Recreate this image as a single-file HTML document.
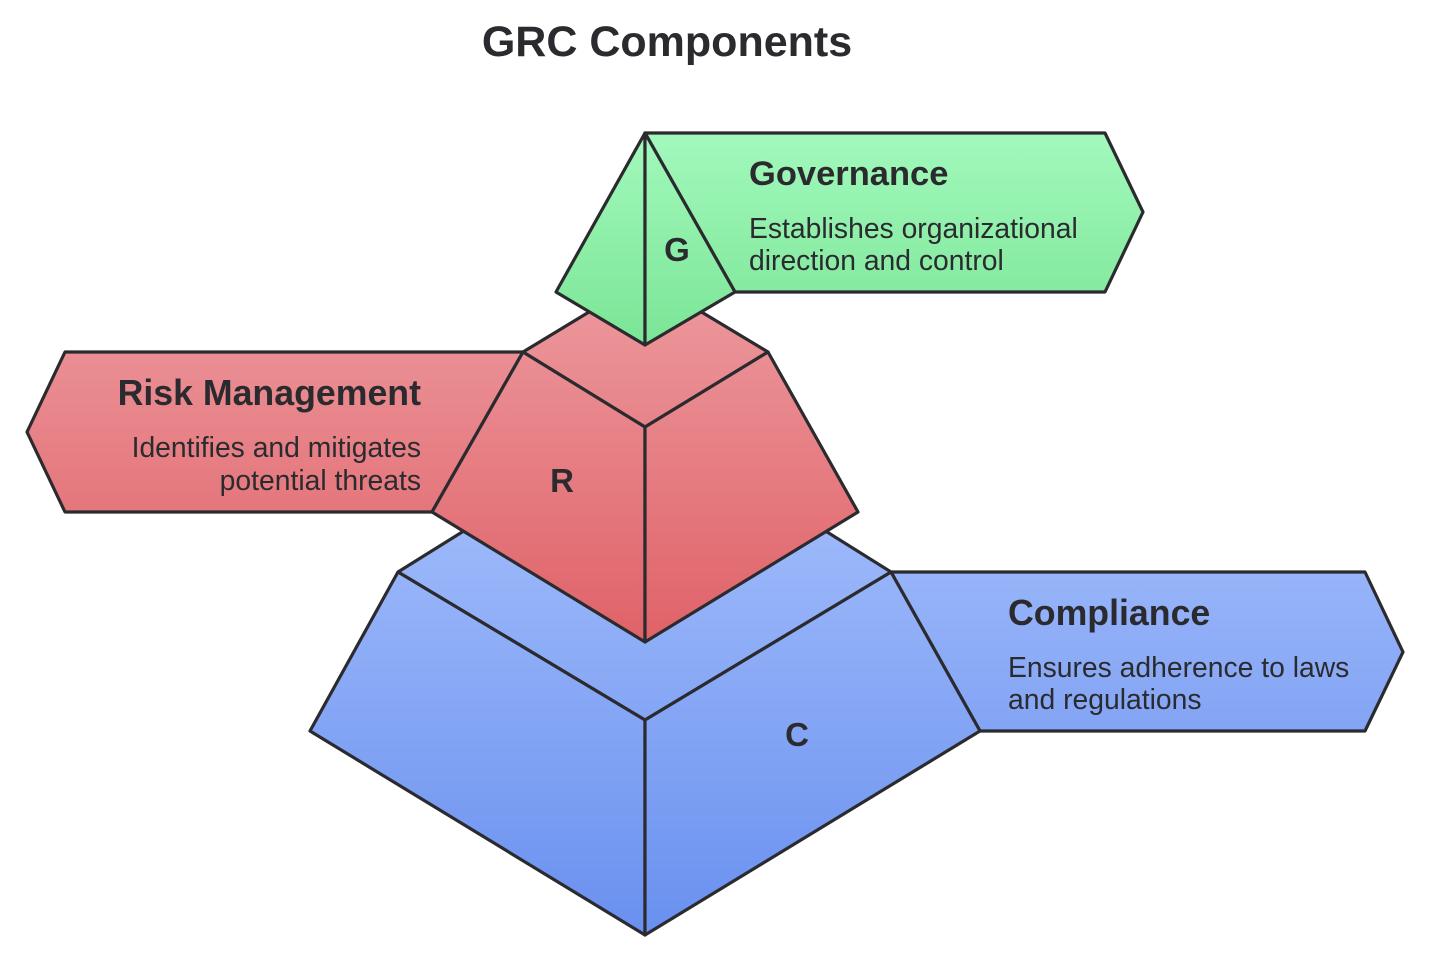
<!DOCTYPE html>
<html>
<head>
<meta charset="utf-8">
<style>
  html, body { margin: 0; padding: 0; background: #ffffff; }
  body { width: 1434px; height: 972px; overflow: hidden; }
  svg { display: block; }
  text { font-family: "Liberation Sans", Arial, sans-serif; fill: #2b2b2f; }
</style>
</head>
<body>
<svg width="1434" height="972" viewBox="0 0 1434 972" xmlns="http://www.w3.org/2000/svg">
  <defs>
    <linearGradient id="gG" gradientUnits="userSpaceOnUse" x1="0" y1="133" x2="0" y2="345">
      <stop offset="0" stop-color="#a2f9bc"/>
      <stop offset="1" stop-color="#7be596"/>
    </linearGradient>
    <linearGradient id="gR" gradientUnits="userSpaceOnUse" x1="0" y1="300" x2="0" y2="642">
      <stop offset="0" stop-color="#ec979c"/>
      <stop offset="1" stop-color="#df6268"/>
    </linearGradient>
    <linearGradient id="gB" gradientUnits="userSpaceOnUse" x1="0" y1="533" x2="0" y2="935">
      <stop offset="0" stop-color="#9cb8fa"/>
      <stop offset="1" stop-color="#6990ef"/>
    </linearGradient>
  </defs>

  <!-- Title -->
  <text x="667" y="56" font-size="43" font-weight="bold" text-anchor="middle">GRC Components</text>

  <g stroke="#2b2b2f" stroke-width="3.2" stroke-linejoin="round">
    <!-- Compliance (blue) -->
    <polygon fill="url(#gB)" points="891,572 1365,572 1403,652 1365,731 980,731"/>
    <polygon fill="url(#gB)" points="398,572 645,418 891,572 645,720"/>
    <polygon fill="url(#gB)" points="398,572 645,720 645,935 310,731"/>
    <polygon fill="url(#gB)" points="891,572 980,731 645,935 645,720"/>

    <!-- Risk (red) -->
    <polygon fill="url(#gR)" points="523,352 65,352 27,432 65,512 432,512"/>
    <polygon fill="url(#gR)" points="523,352 645,278 768,352 645,427"/>
    <polygon fill="url(#gR)" points="523,352 645,427 645,642 432,512"/>
    <polygon fill="url(#gR)" points="768,352 858,512 645,642 645,427"/>

    <!-- Governance (green) -->
    <polygon fill="url(#gG)" points="645,133 1105,133 1143,212 1105,292 735,292"/>
    <polygon fill="url(#gG)" points="645,133 556,292 645,345"/>
    <polygon fill="url(#gG)" points="645,133 735,292 645,345"/>
  </g>

  <!-- Letters -->
  <text x="677" y="261" font-size="33" font-weight="bold" text-anchor="middle">G</text>
  <text x="562" y="492" font-size="33" font-weight="bold" text-anchor="middle">R</text>
  <text x="797" y="746" font-size="33" font-weight="bold" text-anchor="middle">C</text>

  <!-- Governance text -->
  <text x="749" y="185" font-size="34.5" font-weight="bold">Governance</text>
  <text x="749" y="238" font-size="28.3">Establishes organizational</text>
  <text x="749" y="270" font-size="28.3">direction and control</text>

  <!-- Risk text -->
  <text x="421" y="405" font-size="35.7" font-weight="bold" text-anchor="end">Risk Management</text>
  <text x="421" y="457" font-size="28.3" text-anchor="end">Identifies and mitigates</text>
  <text x="421" y="490" font-size="28.3" text-anchor="end">potential threats</text>

  <!-- Compliance text -->
  <text x="1008" y="625" font-size="35.7" font-weight="bold">Compliance</text>
  <text x="1008" y="677" font-size="28.3">Ensures adherence to laws</text>
  <text x="1008" y="709" font-size="28.3">and regulations</text>
</svg>
</body>
</html>
